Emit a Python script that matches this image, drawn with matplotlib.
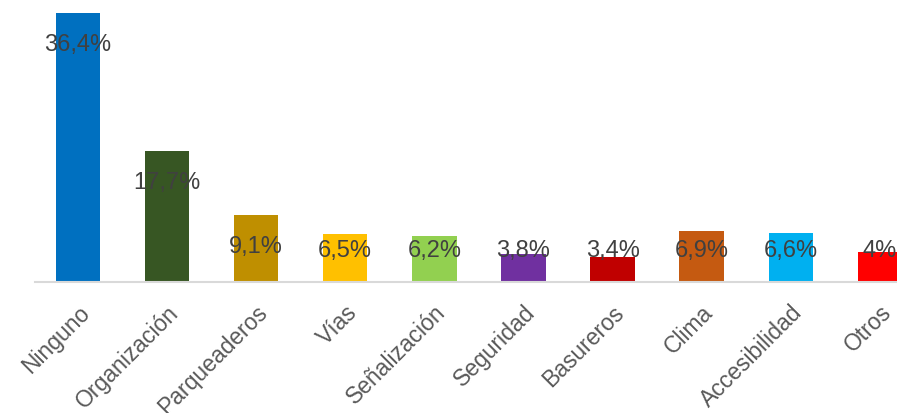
import matplotlib
matplotlib.use('Agg')
import matplotlib.pyplot as plt

# data
categories = ['Ninguno', 'Organización', 'Parqueaderos', 'Vías', 'Señalización',
              'Seguridad', 'Basureros', 'Clima', 'Accesibilidad', 'Otros']
values = [36.4, 17.7, 9.1, 6.5, 6.2, 3.8, 3.4, 6.9, 6.6, 4.0]
value_labels = ['36,4%', '17,7%', '9,1%', '6,5%', '6,2%', '3,8%', '3,4%', '6,9%', '6,6%', '4%']
colors = ['#0070C0', '#375623', '#BF8F00', '#FFC000', '#92D050',
          '#7030A0', '#C00000', '#C55A11', '#00B0F0', '#FF0000']

plt.rcParams['font.family'] = ['Liberation Sans', 'DejaVu Sans']

fig = plt.figure(figsize=(8.97, 4.14), dpi=100)
ax = fig.add_axes([35/897, (414-283)/414, 862/897, 283/414])

x = range(len(values))
ax.bar(x, values, width=0.5, color=colors, zorder=2)

for i, (v, lab) in enumerate(zip(values, value_labels)):
    ax.text(i, max(v - 4.2, 4.3), lab, ha='center', va='center',
            fontsize=17, color='#404040', zorder=3)

ax.set_xlim(-0.48, 9.19)
ax.set_ylim(0, 38.3)
ax.set_xticks(list(x))
ax.set_xticklabels(categories, rotation=45, ha='right', rotation_mode='anchor',
                   fontsize=16.5, color='#595959')
ax.tick_params(axis='x', length=0, pad=13)
ax.set_yticks([])
for s in ['top', 'left', 'right']:
    ax.spines[s].set_visible(False)
ax.spines['bottom'].set_color('#D9D9D9')
ax.spines['bottom'].set_linewidth(1.5)

fig.savefig('out.png', dpi=100)
